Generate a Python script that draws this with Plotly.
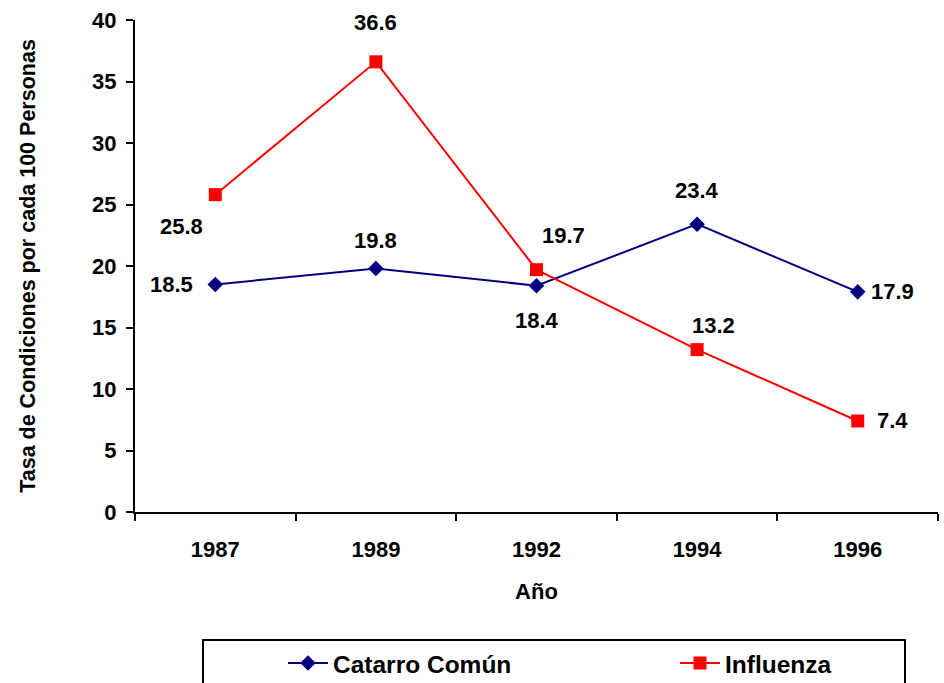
import plotly.graph_objects as go

# Survey years and rates per 100 persons
years = ["1987", "1989", "1992", "1994", "1996"]
catarro = [18.5, 19.8, 18.4, 23.4, 17.9]
influenza = [25.8, 36.6, 19.7, 13.2, 7.4]

# Pixel offsets of each value label from its point
catarro_shift = [(-44, 0), (0, 28), (0, -35), (0, 34), (35, 0)]
influenza_shift = [(-34, -32), (0, 39), (27, 34), (16, 24), (35, 0)]

FONT = "Liberation Sans, Arial, sans-serif"
NAVY = "#000080"
RED = "#FF0000"

fig = go.Figure()
fig.add_trace(go.Scatter(
    x=years, y=catarro, name="Catarro Común", mode="lines+markers",
    line=dict(color=NAVY, width=2),
    marker=dict(symbol="diamond", size=12, color=NAVY, line=dict(width=0)),
    legend="legend",
))
fig.add_trace(go.Scatter(
    x=years, y=influenza, name="Influenza", mode="lines+markers",
    line=dict(color=RED, width=2),
    marker=dict(symbol="square", size=13, color=RED, line=dict(width=0)),
    legend="legend2",
))

annotations = []
for vals, shifts in ((catarro, catarro_shift), (influenza, influenza_shift)):
    for i, (v, (dx, dy)) in enumerate(zip(vals, shifts)):
        annotations.append(dict(
            x=i, y=v, text=f"{v:.1f}", showarrow=False,
            xshift=dx, yshift=dy,
            font=dict(family=FONT, size=22, color="black", weight="bold"),
        ))

legend_style = dict(
    orientation="h", xanchor="left", y=-0.307, yanchor="middle",
    itemwidth=40,
    font=dict(family=FONT, size=24.5, color="black", weight="bold"),
    bgcolor="rgba(0,0,0,0)", borderwidth=0,
)

fig.update_layout(
    width=944, height=683,
    margin=dict(l=135, r=6, t=20, b=171, autoexpand=False),
    paper_bgcolor="white", plot_bgcolor="white",
    font=dict(family=FONT, color="black"),
    showlegend=True,
    legend=dict(x=(283 - 135) / 803, **legend_style),
    legend2=dict(x=(675 - 135) / 803, **legend_style),
    annotations=annotations,
    shapes=[dict(
        type="rect", xref="paper", yref="paper",
        x0=(203 - 135) / 803, x1=(905 - 135) / 803,
        y0=-0.36, y1=-0.26,
        line=dict(color="black", width=2), fillcolor="rgba(0,0,0,0)",
    )],
)

fig.update_xaxes(
    type="category", categoryorder="array", categoryarray=years,
    range=[-0.5, len(years) - 0.5], tickson="boundaries",
    showline=True, linecolor="black", linewidth=2,
    ticks="outside", ticklen=7, tickwidth=2, tickcolor="black",
    ticklabelstandoff=17,
    showgrid=False, zeroline=False, tickangle=0,
    tickfont=dict(family=FONT, size=22, color="black", weight="bold"),
    title=dict(text="Año", standoff=22,
               font=dict(family=FONT, size=22, color="black", weight="bold")),
)
fig.update_yaxes(
    range=[0, 40], dtick=5,
    showline=True, linecolor="black", linewidth=2,
    ticks="outside", ticklen=7, tickwidth=2, tickcolor="black",
    ticklabelstandoff=5,
    showgrid=False, zeroline=False,
    tickfont=dict(family=FONT, size=22, color="black", weight="bold"),
    title=dict(text="Tasa de Condiciones por cada 100 Personas", standoff=51,
               font=dict(family=FONT, size=21.5, color="black", weight="bold")),
)

fig.write_html("out.html")
